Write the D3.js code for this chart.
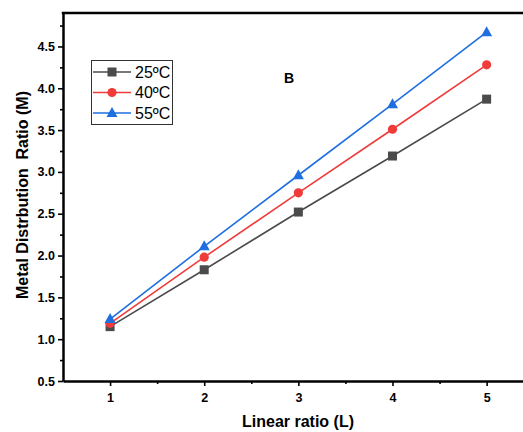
<!DOCTYPE html>
<html>
<head>
<meta charset="utf-8">
<script src="https://cdn.jsdelivr.net/npm/d3@7"></script>
<style>
  html, body { margin: 0; padding: 0; background: #fff; }
  svg { display: block; font-family: "Liberation Sans", Arial, sans-serif; }
</style>
</head>
<body>
<div id="chart"></div>
<script>
// données
const ratios = [1, 2, 3, 4, 5];
const temps = ["25ºC", "40ºC", "55ºC"];
const m25 = [1.15, 1.83, 2.52, 3.19, 3.87];
const m40 = [1.19, 1.98, 2.75, 3.51, 4.28];
const m55 = [1.24, 2.11, 2.96, 3.81, 4.67];
const xTicks = [1, 2, 3, 4, 5];
const yTicks = [0.5, 1.0, 1.5, 2.0, 2.5, 3.0, 3.5, 4.0, 4.5];

const series = [
    { name: temps[0], values: m25, color: "#4b4b4b", marker: "square" },
    { name: temps[1], values: m40, color: "#f03b3b", marker: "circle" },
    { name: temps[2], values: m55, color: "#1e6fe0", marker: "triangle" }
];

const width = 523, height = 432;
const margin = { top: 13, left: 63, bottom: 381 };

const svg = d3.select("#chart").append("svg")
    .attr("width", width).attr("height", height);

const x = d3.scaleLinear().domain([0.5, 5.5]).range([margin.left, 533.7]);
const y = d3.scaleLinear().domain([0.5, 4.9]).range([margin.bottom, margin.top]);

// axes
const xAxis = svg.append("g")
    .attr("transform", `translate(0,${margin.bottom})`)
    .call(d3.axisBottom(x).tickValues(xTicks).tickFormat(d3.format("d")).tickSize(5).tickSizeOuter(0));
svg.append("g")
    .attr("transform", `translate(0,${margin.bottom})`)
    .call(d3.axisBottom(x).tickValues([1.5, 2.5, 3.5, 4.5]).tickFormat("").tickSize(3).tickSizeOuter(0))
    .select(".domain").remove();

const yAxis = svg.append("g")
    .attr("transform", `translate(${margin.left},0)`)
    .call(d3.axisLeft(y).tickValues(yTicks).tickFormat(d3.format(".1f")).tickSize(5).tickSizeOuter(0));
svg.append("g")
    .attr("transform", `translate(${margin.left},0)`)
    .call(d3.axisLeft(y).tickValues(d3.range(0.75, 4.9, 0.5)).tickFormat("").tickSize(3).tickSizeOuter(0))
    .select(".domain").remove();

svg.selectAll(".domain").attr("stroke", "#000").attr("stroke-width", 2.5);
svg.selectAll(".tick line").attr("stroke", "#000").attr("stroke-width", 1.6);
svg.selectAll(".tick text")
    .style("font-size", "12.5px").style("font-weight", "bold")
    .style("font-family", "'Liberation Sans', Arial, sans-serif").attr("fill", "#000");
xAxis.selectAll(".tick text").attr("y", 10).attr("dy", "0.9em");
yAxis.selectAll(".tick text").attr("x", -8);

// cadre du haut
svg.append("line")
    .attr("x1", margin.left - 1.2).attr("x2", width)
    .attr("y1", margin.top).attr("y2", margin.top)
    .attr("stroke", "#000").attr("stroke-width", 2.5);

// titres
svg.append("text")
    .attr("x", 298).attr("y", 427)
    .attr("text-anchor", "middle")
    .style("font-size", "16px").style("font-weight", "bold")
    .text("Linear ratio (L)");

svg.append("text")
    .attr("transform", "rotate(-90)")
    .attr("x", -195).attr("y", 28)
    .attr("text-anchor", "middle")
    .style("font-size", "16px").style("font-weight", "bold")
    .style("white-space", "pre")
    .attr("xml:space", "preserve")
    .text("Metal Distrbution  Ratio (M)");

svg.append("text")
    .attr("x", 289).attr("y", 83)
    .attr("text-anchor", "middle")
    .style("font-size", "14px").style("font-weight", "bold")
    .text("B");

function drawMarker(g, type, color) {
    if (type === "square") {
        g.append("rect").attr("x", -4.5).attr("y", -4.5).attr("width", 9).attr("height", 9).attr("fill", color);
    } else if (type === "circle") {
        g.append("circle").attr("r", 4.6).attr("fill", color);
    } else {
        g.append("path").attr("d", "M0,-6L5.5,4L-5.5,4Z").attr("fill", color);
    }
}

// séries
const line = d3.line().x((d, i) => x(ratios[i])).y(d => y(d));
series.forEach(s => {
    svg.append("path")
        .datum(s.values)
        .attr("d", line)
        .attr("fill", "none")
        .attr("stroke", s.color)
        .attr("stroke-width", 1.6);
    s.values.forEach((v, i) => {
        const g = svg.append("g").attr("transform", `translate(${x(ratios[i])},${y(v)})`);
        drawMarker(g, s.marker, s.color);
    });
});

// légende
const legend = svg.append("g");
legend.append("rect")
    .attr("x", 91.5).attr("y", 60.5).attr("width", 81).attr("height", 64)
    .attr("fill", "#fff").attr("stroke", "#333").attr("stroke-width", 1);
series.forEach((s, i) => {
    const ly = 72 + i * 20.5;
    legend.append("line")
        .attr("x1", 93).attr("x2", 131).attr("y1", ly).attr("y2", ly)
        .attr("stroke", s.color).attr("stroke-width", 1.6);
    const g = legend.append("g").attr("transform", `translate(112,${ly})`);
    drawMarker(g, s.marker, s.color);
    legend.append("text")
        .attr("x", 135).attr("y", ly + 5.5)
        .style("font-size", "16px")
        .text(s.name);
});
</script>
</body>
</html>
